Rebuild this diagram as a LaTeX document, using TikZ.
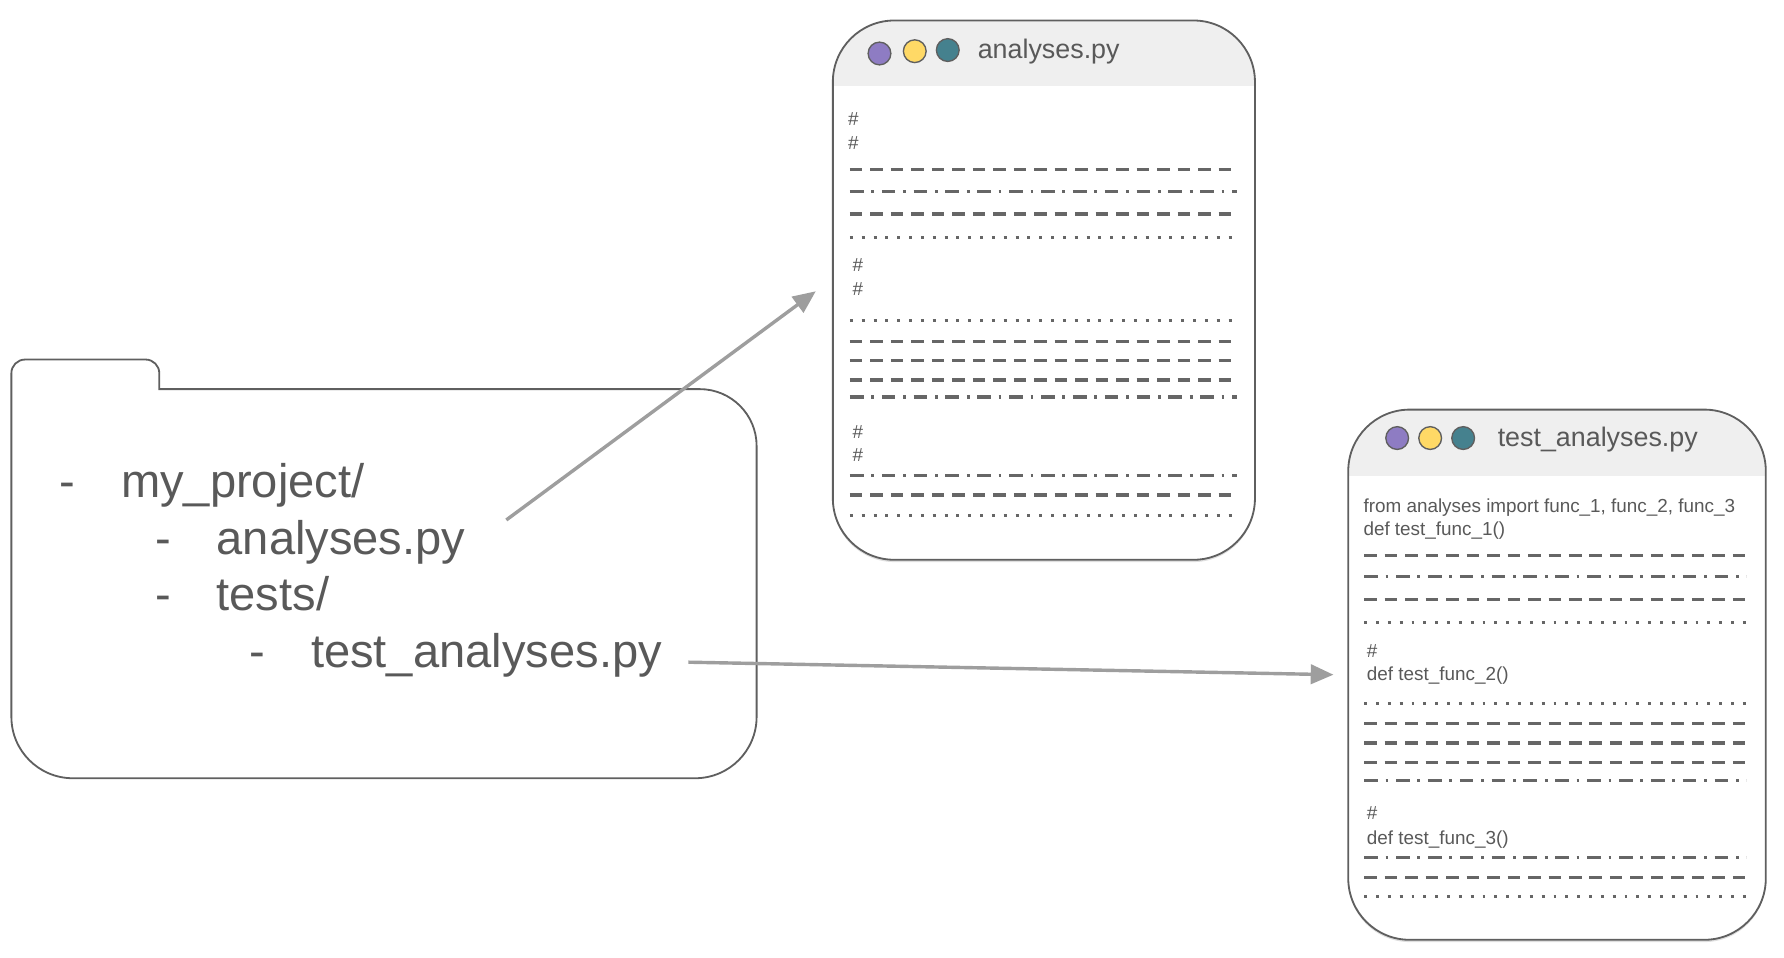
\documentclass[tikz,border=0pt]{standalone}
\usepackage{fontspec}
\setmainfont{Liberation Sans}
\usetikzlibrary{arrows.meta,shadows}
\definecolor{txt}{HTML}{595959}
\definecolor{edge}{HTML}{5F5F5F}
\definecolor{hdr}{HTML}{EFEFEF}
\definecolor{arrowc}{HTML}{9E9E9E}
\definecolor{cpurple}{HTML}{8E7CC3}
\definecolor{cyellow}{HTML}{FFD966}
\definecolor{cteal}{HTML}{45818E}
\definecolor{dashc}{HTML}{666666}
\begin{document}
\begin{tikzpicture}[x=0.5pt,y=-0.5pt,
  outline/.style={draw=edge,line width=0.8pt},
  bigtext/.style={font=\fontsize{20.7}{24}\selectfont,text=txt,inner sep=0,anchor=base west},
  titletext/.style={font=\fontsize{11.8}{14}\selectfont,text=txt,inner sep=0,anchor=base west},
  codetext/.style={font=\fontsize{8.3}{10}\selectfont,text=txt,inner sep=0,anchor=base west},
  wdot/.style={circle,draw=edge,line width=0.6pt,minimum size=10pt,inner sep=0},
  win/.style={rectangle,draw=edge,line width=0.8pt,rounded corners=27pt,fill=white,
    drop shadow={shadow xshift=0pt,shadow yshift=-1pt,opacity=0.25},
    path picture={\fill[hdr,sharp corners] (path picture bounding box.north west) rectangle ([yshift=-29pt]path picture bounding box.north east);}},
  rowdash/.style={draw=dashc,line width=1.4pt,dash pattern=on 5.5pt off 3.5pt},
  rowdashdot/.style={draw=dashc,line width=1.4pt,dash pattern=on 6pt off 3.4pt on 1.2pt off 3.4pt},
  rowdot/.style={draw=dashc,line width=1.3pt,dash pattern=on 1.3pt off 3.9pt},
  link/.style={draw=arrowc,line width=1.5pt,-{Triangle[length=10pt,width=8.5pt]}},
]
\useasboundingbox (0,0) rectangle (1568,842);

% ---------- folder ----------
\draw[outline] (10,470) [rounded corners=6pt] -- (10,316) -- (140,316)
  [sharp corners] -- (140,342) [rounded corners=25pt] -- (665,342)
  [rounded corners=27pt] -- (665,684) -- (10,684) [sharp corners] -- (10,470);

\node[bigtext] (d1) at (52,437) {-};
\node[bigtext] (t1) at (106,437) {my\_project/};
\node[bigtext] (d2) at (136,487) {-};
\node[bigtext] (t2) at (190,487) {analyses.py};
\node[bigtext] (d3) at (136,537) {-};
\node[bigtext] (t3) at (190,537) {tests/};
\node[bigtext] (d4) at (219,587) {-};
\node[bigtext] (t4) at (273,587) {test\_analyses.py};

% ---------- analyses.py window ----------
\node[win,minimum width=185.5pt,minimum height=237pt] (w1) at (917.5,255) {};
\node[wdot,fill=cpurple] (w1a) at (773,47) {};
\node[wdot,fill=cyellow] (w1b) at (804,45) {};
\node[wdot,fill=cteal] (w1c) at (833,44) {};
\node[titletext] (w1t) at (859,51) {analyses.py};

\node[codetext] (c1) at (745,110) {\#};
\node[codetext] (c2) at (745,131) {\#};
\draw[rowdash] (747,149) -- (1087,149);
\draw[rowdashdot] (747,168) -- (1087,168);
\draw[rowdash] (747,188) -- (1087,188);
\draw[rowdot] (747,209) -- (1087,209);
\node[codetext] (c3) at (749,239) {\#};
\node[codetext] (c4) at (749,260) {\#};
\draw[rowdot] (747,282) -- (1087,282);
\draw[rowdash] (747,300) -- (1087,300);
\draw[rowdash] (747,317) -- (1087,317);
\draw[rowdash] (747,334) -- (1087,334);
\draw[rowdashdot] (747,349) -- (1087,349);
\node[codetext] (c5) at (749,385) {\#};
\node[codetext] (c6) at (749,406) {\#};
\draw[rowdashdot] (747,418) -- (1087,418);
\draw[rowdash] (747,435) -- (1087,435);
\draw[rowdot] (747,453) -- (1087,453);

% ---------- test_analyses.py window ----------
\node[win,minimum width=183.5pt,minimum height=233pt] (w2) at (1368.5,593) {};
\node[wdot,fill=cpurple] (w2a) at (1228,385) {};
\node[wdot,fill=cyellow] (w2b) at (1257,385) {};
\node[wdot,fill=cteal] (w2c) at (1286,385) {};
\node[titletext] (w2t) at (1316,392) {test\_analyses.py};

\node[codetext] (e1) at (1198,450) {from analyses import func\_1, func\_2, func\_3};
\node[codetext] (e2) at (1198,471) {def test\_func\_1()};
\draw[rowdash] (1199,488) -- (1535,488);
\draw[rowdashdot] (1199,507) -- (1535,507);
\draw[rowdash] (1199,527) -- (1535,527);
\draw[rowdot] (1199,547) -- (1535,547);
\node[codetext] (e3) at (1201,578) {\#};
\node[codetext] (e4) at (1201,598) {def test\_func\_2()};
\draw[rowdot] (1199,618) -- (1535,618);
\draw[rowdash] (1199,636) -- (1535,636);
\draw[rowdash] (1199,653) -- (1535,653);
\draw[rowdash] (1199,670) -- (1535,670);
\draw[rowdashdot] (1199,686) -- (1535,686);
\node[codetext] (e5) at (1201,720) {\#};
\node[codetext] (e6) at (1201,742) {def test\_func\_3()};
\draw[rowdashdot] (1199,754) -- (1535,754);
\draw[rowdash] (1199,771) -- (1535,771);
\draw[rowdot] (1199,788) -- (1535,788);

% ---------- connectors ----------
\coordinate (a1s) at (445,457);
\coordinate (a1e) at (717,256);
\coordinate (a2s) at (605,582);
\coordinate (a2e) at (1172,593);
\draw[link] (a1s) -- (a1e);
\draw[link] (a2s) -- (a2e);
\end{tikzpicture}
\end{document}
